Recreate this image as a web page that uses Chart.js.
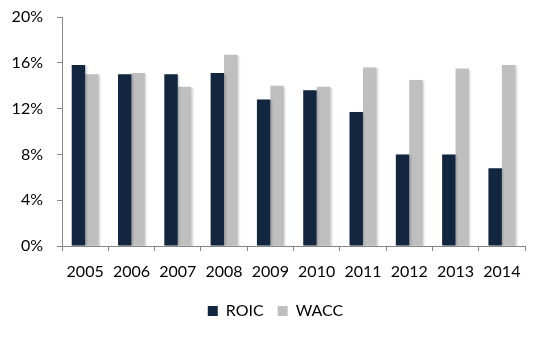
<!DOCTYPE html>
<html>
<head>
<meta charset="utf-8">
<script src="https://cdn.jsdelivr.net/npm/chart.js@4"></script>
<style>
html,body{margin:0;padding:0;background:#fff;}
#wrap{width:543px;height:337px;position:relative;}
</style>
</head>
<body>
<div id="wrap"><canvas id="c" width="543" height="337"></canvas></div>
<script>
const categories = ['2005','2006','2007','2008','2009','2010','2011','2012','2013','2014'];
const roic = [15.8, 15.0, 15.0, 15.1, 12.8, 13.6, 11.7, 8.0, 8.0, 6.8];
const wacc = [15.0, 15.1, 13.9, 16.7, 14.0, 13.9, 15.6, 14.5, 15.5, 15.8];
const yTicks = [0, 4, 8, 12, 16, 20];

const shadowPlugin = {
  id: 'shadow',
  beforeDatasetsDraw(chart) {
    const ctx = chart.ctx;
    ctx.save();
    ctx.shadowColor = 'rgba(0,0,0,0.18)';
    ctx.shadowBlur = 2;
    ctx.shadowOffsetX = 1.5;
    ctx.shadowOffsetY = 1;
  },
  afterDatasetsDraw(chart) {
    chart.ctx.restore();
  }
};

const legendShift = {
  id: 'legendShift',
  afterLayout(chart) {
    if (chart.legend) {
      chart.legend.left += 13;
      chart.legend.right += 13;
    }
  }
};

Chart.defaults.font.family = 'Lato, "Open Sans", sans-serif';
Chart.defaults.font.size = 16;
Chart.defaults.color = '#000';

new Chart(document.getElementById('c'), {
  type: 'bar',
  data: {
    labels: categories,
    datasets: [
      { label: 'ROIC', data: roic, backgroundColor: '#12263F', categoryPercentage: 0.58, barPercentage: 1.0 },
      { label: 'WACC', data: wacc, backgroundColor: '#BFBFBF', categoryPercentage: 0.58, barPercentage: 1.0 }
    ]
  },
  options: {
    responsive: false,
    animation: false,
    layout: { padding: { top: 17, right: 18, left: 0, bottom: 8 } },
    plugins: {
      tooltip: { enabled: false },
      legend: {
        position: 'bottom',
        labels: { boxWidth: 10, boxHeight: 10, padding: 14, font: { size: 16 } }
      }
    },
    scales: {
      x: {
        grid: { display: true, drawOnChartArea: false, drawTicks: true, tickLength: 5, color: '#868686', offset: true },
        border: { color: '#868686', width: 1 },
        ticks: { padding: 11, maxRotation: 0, font: { size: 16 } },
        afterFit(s) { s.height = 43; s.paddingLeft = 0; s.paddingRight = 0; }
      },
      y: {
        min: 0, max: 20,
        afterBuildTicks(s) { s.ticks = yTicks.map(v => ({ value: v })); },
        grid: { display: true, drawOnChartArea: false, drawTicks: true, tickLength: 5, color: '#868686' },
        border: { color: '#868686', width: 1 },
        ticks: { padding: 14, callback: v => v + '%', font: { size: 16 } },
        afterFit(s) { s.width = 62; s.paddingTop = 0; s.paddingBottom = 0; }
      }
    }
  },
  plugins: [shadowPlugin, legendShift]
});
</script>
</body>
</html>
